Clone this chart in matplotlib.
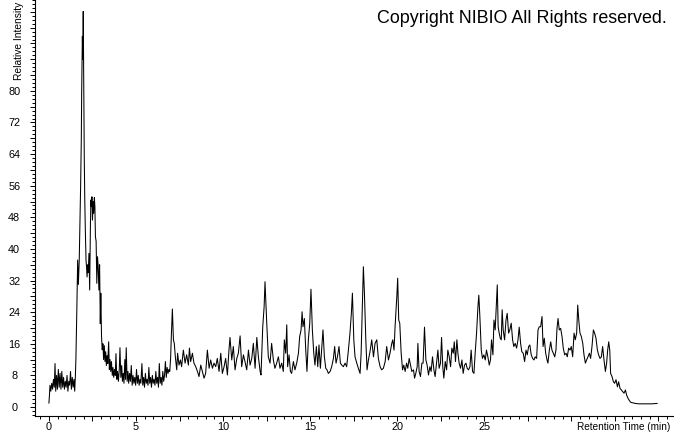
import matplotlib
matplotlib.use("Agg")
import matplotlib.pyplot as plt
from matplotlib.ticker import MultipleLocator
import numpy as np

# ---- data (retention time in min, relative intensity) ----
time_a = [0.00, 0.03, 0.06, 0.11, 0.16, 0.21, 0.26, 0.31, 0.35, 0.39, 0.44, 0.49, 0.54, 0.59,
          0.64, 0.69, 0.74, 0.79, 0.84, 0.89, 0.94, 0.99, 1.04, 1.09, 1.14, 1.19, 1.24, 1.29,
          1.34, 1.39, 1.44, 1.48, 1.52, 1.55, 1.60, 1.65, 1.69, 1.74, 1.78, 1.82, 1.86, 1.88,
          1.92, 1.95, 1.97, 2.00, 2.03, 2.06, 2.09, 2.13, 2.16, 2.19, 2.23, 2.26, 2.30, 2.34,
          2.38, 2.41, 2.44, 2.47, 2.50, 2.54, 2.57, 2.61, 2.64, 2.67, 2.71, 2.75, 2.79, 2.83,
          2.87, 2.91, 2.95, 2.98, 3.02, 3.06, 3.10]
int_a = [1.0, 3.0, 5.5, 4.0, 6.0, 4.5, 7.0, 5.0, 11.0, 4.0, 8.0, 4.5, 9.5, 5.0,
         8.5, 4.5, 9.0, 5.0, 7.5, 4.5, 6.5, 5.0, 8.0, 4.0, 6.5, 5.5, 9.0, 4.5,
         7.5, 5.0, 7.0, 4.0, 8.0, 12.3, 24.0, 37.2, 31.0, 37.0, 46.0, 55.8, 68.0, 79.4,
         93.8, 88.0, 100.1, 80.0, 63.0, 52.0, 45.0, 37.2, 35.5, 32.9, 36.0, 34.0, 38.9, 29.6,
         45.0, 52.4, 50.7, 53.2, 47.3, 52.0, 49.0, 53.0, 50.7, 43.1, 42.0, 31.3, 38.0, 35.5,
         29.6, 36.0, 21.1, 28.8, 18.0, 14.5, 16.0]

time_b = [3.14, 3.18, 3.22, 3.26, 3.30, 3.34, 3.38, 3.43, 3.47, 3.51, 3.55, 3.59, 3.64, 3.68,
          3.72, 3.77, 3.81, 3.85, 3.90, 3.94, 3.99, 4.04, 4.08, 4.13, 4.18, 4.22, 4.27, 4.31,
          4.36, 4.40, 4.44, 4.49, 4.54, 4.58, 4.63, 4.68, 4.73, 4.78, 4.83, 4.88, 4.93, 4.98,
          5.03, 5.08, 5.13, 5.18, 5.23, 5.28, 5.34, 5.39, 5.44, 5.49, 5.54, 5.59, 5.64, 5.69,
          5.74, 5.79, 5.84, 5.89, 5.94, 5.99, 6.04, 6.09, 6.14, 6.19, 6.24, 6.29, 6.34, 6.39,
          6.44, 6.49, 6.54, 6.59, 6.64, 6.69, 6.74, 6.79, 6.84, 6.89, 6.94, 6.99, 7.03]
int_b = [12.0, 15.5, 11.5, 14.0, 10.5, 13.0, 11.0, 16.5, 9.5, 12.0, 9.0, 11.5, 8.0, 10.0,
         7.5, 9.5, 8.0, 13.5, 7.0, 9.0, 6.5, 9.5, 15.0, 7.5, 10.5, 6.5, 8.5, 6.0,
         12.0, 7.0, 15.0, 6.5, 9.0, 6.0, 8.5, 6.5, 10.5, 5.5, 8.0, 6.0, 7.5, 5.5,
         9.5, 6.0, 8.0, 5.5, 7.0, 6.0, 11.0, 5.5, 7.5, 5.0, 8.5, 6.0, 7.0, 5.5,
         10.0, 6.0, 7.5, 5.0, 8.0, 6.0, 7.0, 5.5, 9.0, 6.0, 7.5, 5.0, 11.0, 6.0,
         7.5, 5.5, 9.0, 6.5, 8.0, 11.5, 7.5, 10.0, 8.5, 9.5, 9.0, 12.5, 18.0]

time_c = [7.09, 7.15, 7.20, 7.26, 7.34, 7.39, 7.47, 7.55, 7.62, 7.72, 7.82, 7.91, 8.01, 8.07,
          8.14, 8.24, 8.33, 8.43, 8.53, 8.62, 8.72, 8.81, 8.91, 9.00, 9.10, 9.20, 9.29, 9.39,
          9.48, 9.58, 9.67, 9.77, 9.87, 9.96, 10.06, 10.15, 10.25, 10.34, 10.40, 10.50, 10.59,
          10.69, 10.79, 10.88, 10.98, 11.07, 11.17, 11.26, 11.36, 11.46, 11.55, 11.65, 11.74,
          11.84, 11.94, 12.03, 12.13, 12.18, 12.28, 12.36, 12.41]
int_c = [24.8, 17.0, 16.1, 12.7, 9.4, 13.6, 10.6, 11.9, 10.2, 14.4, 11.1, 13.2, 10.6, 14.9,
         11.5, 13.6, 11.1, 10.2, 9.0, 7.7, 10.6, 9.0, 7.3, 8.5, 14.4, 9.8, 11.9, 9.8,
         11.1, 10.2, 12.3, 9.0, 13.6, 8.5, 10.2, 12.3, 8.1, 14.4, 17.6, 11.9, 15.3,
         9.4, 12.3, 13.6, 18.0, 10.2, 13.2, 11.5, 9.4, 14.4, 10.6, 12.3, 16.1,
         9.8, 17.6, 12.7, 9.0, 8.1, 20.3, 25.4, 31.7]

time_d = [12.51, 12.60, 12.70, 12.79, 12.89, 12.98, 13.08, 13.18, 13.27, 13.37, 13.46, 13.52,
          13.60, 13.66, 13.71, 13.79, 13.87, 13.94, 14.04, 14.13, 14.23, 14.33, 14.40, 14.48,
          14.54, 14.59, 14.67, 14.75, 14.82, 14.90, 14.98, 15.05, 15.13, 15.21, 15.28, 15.36,
          15.44, 15.51, 15.59, 15.67, 15.74, 15.82, 15.90, 15.97, 16.05, 16.15, 16.24, 16.34,
          16.41, 16.49, 16.57, 16.66, 16.74, 16.82, 16.91, 17.01, 17.10, 17.20, 17.29, 17.37,
          17.43, 17.51, 17.58, 17.68, 17.77, 17.87, 17.93, 18.00, 18.06, 18.12, 18.20, 18.27,
          18.35, 18.44, 18.54, 18.64, 18.73, 18.83, 18.92, 19.02, 19.11, 19.21, 19.31, 19.40,
          19.50, 19.59, 19.69, 19.75, 19.82, 19.88, 19.98, 20.03, 20.09]
int_d = [21.2, 12.7, 11.1, 16.1, 11.9, 9.8, 11.1, 12.7, 9.8, 11.1, 9.0, 17.0,
         13.6, 20.8, 10.2, 13.2, 9.0, 8.5, 11.5, 9.4, 11.1, 13.6, 17.8, 19.5,
         24.1, 20.3, 22.4, 14.4, 9.0, 17.0, 21.2, 29.8, 19.5, 13.6, 10.6, 15.3,
         10.2, 15.7, 9.8, 14.9, 19.5, 12.7, 9.8, 9.4, 8.5, 9.0, 10.2, 12.3,
         15.3, 11.1, 12.7, 15.3, 11.1, 10.6, 10.2, 11.1, 10.2, 14.4, 18.7, 23.7,
         28.8, 17.0, 12.7, 11.1, 9.8, 8.5, 13.6, 25.4, 35.5, 28.8, 17.0, 9.4,
         11.9, 14.0, 17.0, 12.7, 16.1, 17.0, 12.3, 10.2, 9.4, 9.8, 11.5, 15.3,
         11.9, 13.6, 16.1, 17.0, 14.4, 20.3, 27.9, 32.6, 22.0]

time_e = [20.15, 20.23, 20.31, 20.38, 20.46, 20.54, 20.61, 20.69, 20.77, 20.84, 20.94, 21.00,
          21.07, 21.15, 21.19, 21.26, 21.34, 21.42, 21.49, 21.57, 21.65, 21.72, 21.80, 21.88,
          21.95, 22.03, 22.11, 22.18, 22.26, 22.34, 22.41, 22.49, 22.55, 22.62, 22.68, 22.76,
          22.84, 22.91, 22.99, 23.07, 23.14, 23.22, 23.28, 23.35, 23.43, 23.49, 23.56, 23.64,
          23.72, 23.79, 23.87, 23.95, 24.02, 24.10, 24.18, 24.25, 24.33, 24.41, 24.48, 24.56,
          24.64, 24.69, 24.75, 24.83, 24.90, 24.98, 25.06, 25.13, 25.21, 25.29, 25.36, 25.42,
          25.50, 25.56, 25.63, 25.69, 25.75, 25.80, 25.86, 25.92, 25.98, 26.03, 26.09, 26.17,
          26.25, 26.32, 26.40, 26.47, 26.55, 26.63, 26.70, 26.78, 26.86, 26.94, 27.01, 27.09,
          27.16, 27.24, 27.32, 27.40, 27.47, 27.55, 27.62]
int_e = [21.2, 13.6, 9.4, 10.6, 9.0, 11.1, 9.8, 12.3, 10.6, 9.0, 9.4, 7.3,
         8.5, 10.2, 16.1, 9.0, 7.7, 11.1, 11.1, 20.2, 11.9, 10.6, 8.1, 10.2,
         9.0, 12.7, 9.4, 7.7, 11.1, 14.4, 9.8, 11.1, 17.6, 10.2, 7.3, 11.5,
         9.4, 14.4, 12.7, 10.2, 14.9, 13.6, 16.5, 11.5, 17.0, 13.6, 11.1, 9.8,
         11.9, 8.5, 10.6, 11.1, 9.8, 9.4, 10.2, 14.4, 9.0, 8.5, 13.6, 18.7,
         25.4, 28.3, 22.9, 14.4, 12.3, 13.2, 11.9, 14.4, 12.7, 10.6, 11.9, 17.0,
         13.2, 22.0, 19.5, 25.4, 30.9, 20.3, 18.7, 17.4, 17.0, 24.6, 19.5, 17.0,
         22.0, 23.7, 18.7, 19.5, 21.2, 17.0, 15.3, 16.1, 14.9, 17.0, 20.2, 16.1,
         14.0, 13.6, 11.5, 14.4, 13.2, 15.3, 15.7]

time_f = [27.70, 27.78, 27.86, 27.93, 28.01, 28.09, 28.16, 28.24, 28.32, 28.38, 28.45, 28.53,
          28.61, 28.66, 28.74, 28.82, 28.89, 28.97, 29.05, 29.12, 29.18, 29.24, 29.31, 29.39,
          29.47, 29.54, 29.62, 29.70, 29.77, 29.85, 29.93, 30.00, 30.08, 30.16, 30.23, 30.31,
          30.37, 30.43, 30.50, 30.58, 30.66, 30.73, 30.81, 30.88, 30.96, 31.04, 31.11, 31.19,
          31.27, 31.34, 31.42, 31.50, 31.57, 31.65, 31.73, 31.80, 31.88, 31.96, 32.03, 32.09,
          32.15, 32.21, 32.26, 32.34, 32.42, 32.49, 32.57, 32.65, 32.72, 32.80, 32.88, 32.95,
          33.03, 33.11, 33.18, 33.26, 33.34, 33.41, 33.49, 33.68, 33.87, 34.26, 34.64, 34.93]
int_f = [13.2, 12.3, 11.9, 12.7, 12.3, 19.5, 20.3, 20.3, 22.9, 15.3, 17.4, 13.6,
         11.9, 11.1, 14.4, 16.5, 14.4, 13.6, 12.7, 14.4, 19.9, 22.4, 19.5, 19.9,
         17.8, 14.9, 13.2, 13.6, 12.7, 14.9, 14.4, 15.3, 12.7, 18.7, 17.0, 18.7,
         25.8, 22.0, 18.7, 17.8, 16.1, 13.2, 11.1, 11.9, 12.7, 13.6, 12.3, 15.3,
         19.5, 18.7, 17.4, 14.4, 13.2, 12.3, 12.7, 15.3, 11.9, 9.0, 11.1, 14.4,
         16.5, 14.4, 8.5, 7.7, 6.4, 6.0, 6.9, 5.1, 6.4, 4.7, 4.3, 3.9,
         3.5, 4.3, 3.0, 2.2, 1.6, 1.2, 1.1, 0.9, 0.8, 0.8, 0.8, 0.9]

time_min = time_a + time_b + time_c + time_d + time_e + time_f
intensity = int_a + int_b + int_c + int_d + int_e + int_f

x_tick_labels = ["0", "5", "10", "15", "20", "25"]
y_tick_labels = ["0", "8", "16", "24", "32", "40", "48", "56", "64", "72", "80"]

# ---- figure ----
W, H = 674, 434
fig = plt.figure(figsize=(W / 100, H / 100), dpi=100)
ax = fig.add_axes([35 / W, 1 - 416 / H, 1 - 35 / W, 416 / H])

ax.plot(time_min, intensity, color="black", lw=0.75)

ax.set_xlim(-0.8, 35.9)
ax.set_ylim(-2.28, 103.0)

for s in ["top", "right"]:
    ax.spines[s].set_visible(False)
for s in ["left", "bottom"]:
    ax.spines[s].set_linewidth(0.8)

fs = 7.8
fam = ["Liberation Sans", "DejaVu Sans"]

xt = list(np.arange(0, 35.01, 2.5))
ax.set_xticks(xt)
lab = []
for v in xt:
    s = str(int(v)) if abs(v - round(v)) < 1e-9 else ""
    lab.append(s if s in x_tick_labels else "")
ax.set_xticklabels(lab, fontsize=fs, family=fam)
ax.xaxis.set_minor_locator(MultipleLocator(0.5))

yt = list(range(0, 101, 4))
ax.set_yticks(yt)
ylab = [str(v) if str(v) in y_tick_labels else "" for v in yt]
ax.set_yticklabels(ylab, fontsize=fs, family=fam, ha="center")
ax.yaxis.set_minor_locator(MultipleLocator(1))

ax.tick_params(axis="x", which="major", direction="out", length=3.5, width=0.7, pad=1)
ax.tick_params(axis="x", which="minor", direction="out", length=2, width=0.7)
ax.tick_params(axis="y", which="major", direction="out", length=3.5, width=0.7, pad=11.5)
ax.tick_params(axis="y", which="minor", direction="out", length=2, width=0.7)

fig.text(577 / W, 1 - 427 / H, "Retention Time (min)", fontsize=7.2, family=fam,
         ha="left", va="center")
fig.text(19 / W, 1 - 80 / H, "Relative Intensity", fontsize=7.4, family=fam,
         rotation=90, ha="center", va="bottom")
fig.text(377 / W, 1 - 23 / H, "Copyright NIBIO All Rights reserved.", fontsize=12.9,
         family=fam, ha="left", va="baseline")

fig.savefig("out.png", dpi=100)
